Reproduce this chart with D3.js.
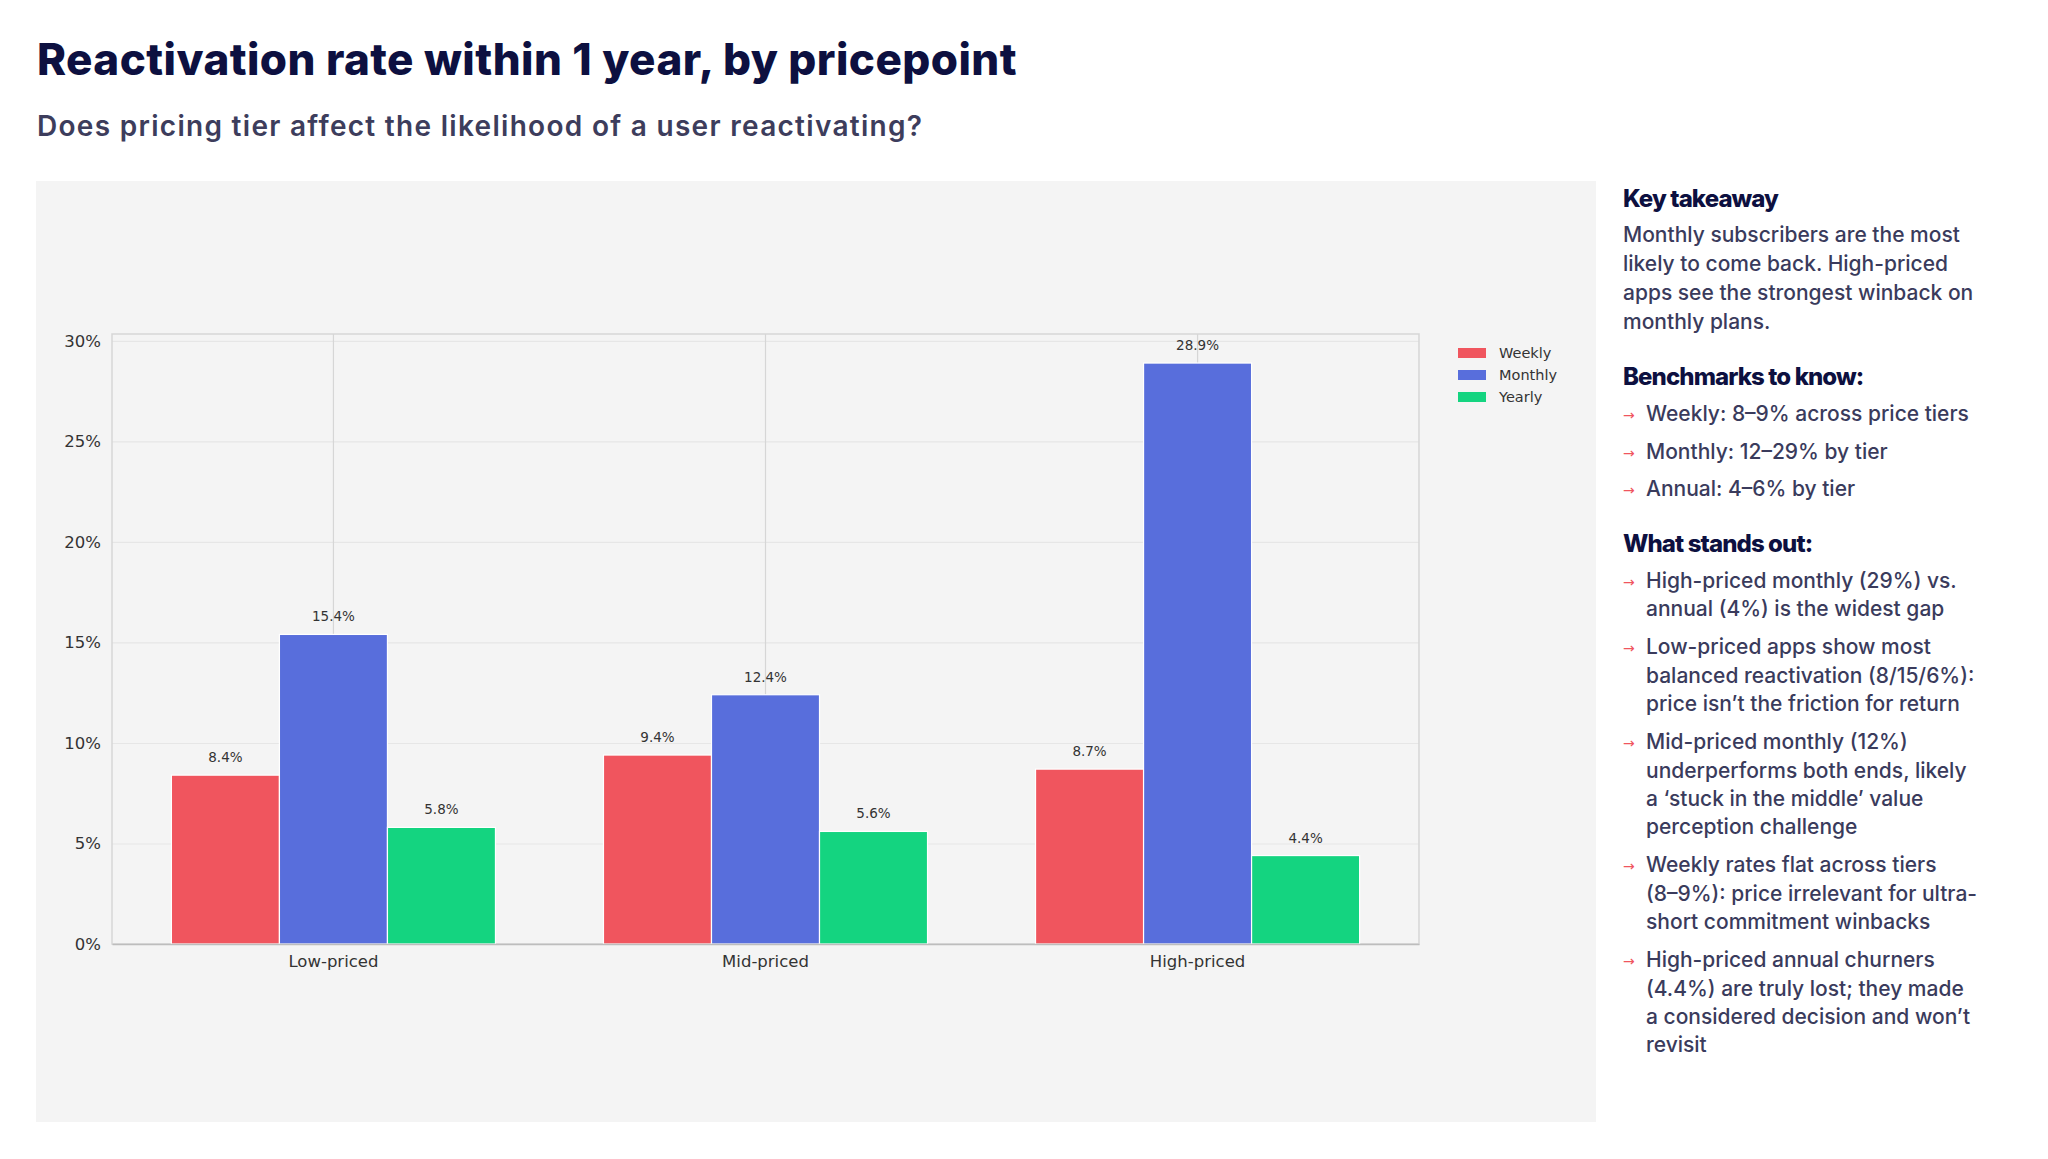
<!DOCTYPE html>
<html>
<head>
<meta charset="utf-8">
<script src="https://cdn.jsdelivr.net/npm/d3@7"></script>
<style>
  body { margin: 0; background: #fff; }
  svg { display: block; }
  .tick text { font-family: "DejaVu Sans", sans-serif; fill: #333; }
</style>
</head>
<body>
<svg class="canvas" width="2048" height="1159"></svg>
<script>
// data
var categories = ['Low-priced', 'Mid-priced', 'High-priced'];
var seriesNames = ['Weekly', 'Monthly', 'Yearly'];
var weekly = [8.4, 9.4, 8.7];
var monthly = [15.4, 12.4, 28.9];
var yearly = [5.8, 5.6, 4.4];
var yTicks = [0, 5, 10, 15, 20, 25, 30];
var colors = ['#F0555E', '#586EDC', '#14D480'];

var takeaway = [
	'Monthly subscribers are the most',
	'likely to come back. High-priced',
	'apps see the strongest winback on',
	'monthly plans.'
];
var benchmarks = [
	'Weekly: 8\u20139% across price tiers',
	'Monthly: 12\u201329% by tier',
	'Annual: 4\u20136% by tier'
];
var standouts = [
	['High-priced monthly (29%) vs.', 'annual (4%) is the widest gap'],
	['Low-priced apps show most', 'balanced reactivation (8/15/6%):', 'price isn\u2019t the friction for return'],
	['Mid-priced monthly (12%)', 'underperforms both ends, likely', 'a \u2018stuck in the middle\u2019 value', 'perception challenge'],
	['Weekly rates flat across tiers', '(8\u20139%): price irrelevant for ultra-', 'short commitment winbacks'],
	['High-priced annual churners', '(4.4%) are truly lost; they made', 'a considered decision and won\u2019t', 'revisit']
];

var series = [weekly, monthly, yearly];

var svg = d3.select('.canvas');
var navy = '#0D1040';
var slate = '#3A3B5C';

// TITLE
svg.append('text')
	.attr('x', 37).attr('y', 75)
	.attr('font-family', 'Inter, sans-serif')
	.attr('font-weight', 800)
	.attr('font-size', 44)
	.attr('letter-spacing', -1.5)
	.attr('textLength', 978)
	.attr('lengthAdjust', 'spacing')
	.attr('fill', navy)
	.text('Reactivation rate within 1 year, by pricepoint');

svg.append('text')
	.attr('x', 37).attr('y', 136)
	.attr('font-family', 'Inter, sans-serif')
	.attr('font-weight', 600)
	.attr('font-size', 28)
	.attr('textLength', 885)
	.attr('lengthAdjust', 'spacing')
	.attr('fill', '#3D3D5C')
	.text('Does pricing tier affect the likelihood of a user reactivating?');

// CHART BACKGROUND
svg.append('rect')
	.attr('x', 36).attr('y', 181)
	.attr('width', 1560).attr('height', 941)
	.attr('fill', '#F4F4F4');

var plot = { left: 112, right: 1419, top: 334, bottom: 944 };

var x = d3.scaleBand()
	.domain(categories)
	.range([plot.left, plot.right])
	.paddingInner(0)
	.paddingOuter(0.0125);

var groupWidth = x.bandwidth() * 0.75;
var xs = d3.scaleBand()
	.domain(seriesNames)
	.range([0, groupWidth]);

var y = d3.scaleLinear()
	.domain([0, d3.max(monthly.concat(weekly, yearly)) * 1.05])
	.range([plot.bottom, plot.top]);

// GRID
svg.append('g')
	.attr('class', 'grid-y')
	.attr('transform', 'translate(' + plot.left + ',0)')
	.call(d3.axisLeft(y).tickValues(yTicks).tickSize(-(plot.right - plot.left)).tickFormat(''))
	.call(function(g) {
		g.select('.domain').remove();
		g.selectAll('line').attr('stroke', '#E6E6E6').attr('stroke-width', 1.2);
	});

svg.append('g')
	.attr('class', 'grid-x')
	.attr('transform', 'translate(0,' + plot.bottom + ')')
	.call(d3.axisBottom(x).tickSize(-(plot.bottom - plot.top)).tickFormat(''))
	.call(function(g) {
		g.select('.domain').remove();
		g.selectAll('line').attr('stroke', '#D6D6D6').attr('stroke-width', 1.2);
	});

// FRAME
svg.append('rect')
	.attr('x', plot.left).attr('y', plot.top)
	.attr('width', plot.right - plot.left)
	.attr('height', plot.bottom - plot.top)
	.attr('fill', 'none')
	.attr('stroke', '#D6D6D6')
	.attr('stroke-width', 1.5);

// BARS
var groups = svg.append('g').selectAll('g')
	.data(categories)
	.enter().append('g')
	.attr('transform', function(d) {
		return 'translate(' + (x(d) + (x.bandwidth() - groupWidth) / 2) + ',0)';
	});

groups.selectAll('rect')
	.data(function(d, i) {
		return seriesNames.map(function(s, j) { return { s: s, v: series[j][i], c: colors[j] }; });
	})
	.enter().append('rect')
	.attr('x', function(d) { return xs(d.s); })
	.attr('y', function(d) { return y(d.v); })
	.attr('width', xs.bandwidth())
	.attr('height', function(d) { return y(0) - y(d.v); })
	.attr('fill', function(d) { return d.c; })
	.attr('stroke', '#fff')
	.attr('stroke-width', 1.2);

groups.selectAll('text')
	.data(function(d, i) {
		return seriesNames.map(function(s, j) { return { s: s, v: series[j][i] }; });
	})
	.enter().append('text')
	.attr('x', function(d) { return xs(d.s) + xs.bandwidth() / 2; })
	.attr('y', function(d) { return y(d.v) - 13; })
	.attr('text-anchor', 'middle')
	.attr('font-family', 'DejaVu Sans, sans-serif')
	.attr('font-size', 13.5)
	.attr('fill', '#333')
	.text(function(d) { return d.v.toFixed(1) + '%'; });

// AXES
svg.append('g')
	.attr('transform', 'translate(' + plot.left + ',0)')
	.call(d3.axisLeft(y).tickValues(yTicks).tickSize(0).tickPadding(11).tickFormat(function(d) { return d + '%'; }))
	.call(function(g) {
		g.select('.domain').remove();
		g.selectAll('text').attr('font-size', 16.5);
	});

svg.append('g')
	.attr('transform', 'translate(0,' + plot.bottom + ')')
	.call(d3.axisBottom(x).tickSize(0).tickPadding(11))
	.call(function(g) {
		g.select('.domain').attr('stroke', '#BDBDBD').attr('stroke-width', 1.5);
		g.selectAll('text').attr('font-size', 16.5);
	});

// LEGEND
var legend = svg.append('g').selectAll('g')
	.data(seriesNames)
	.enter().append('g')
	.attr('transform', function(d, i) { return 'translate(1458,' + (353 + i * 22) + ')'; });

legend.append('rect')
	.attr('x', 0).attr('y', -5)
	.attr('width', 28).attr('height', 10)
	.attr('fill', function(d, i) { return colors[i]; });

legend.append('text')
	.attr('x', 41).attr('y', 5)
	.attr('font-family', 'DejaVu Sans, sans-serif')
	.attr('font-size', 14.5)
	.attr('fill', '#333')
	.text(function(d) { return d; });

// SIDE PANEL
var panelX = 1623;

function heading(txt, yy) {
	svg.append('text')
		.attr('x', panelX).attr('y', yy)
		.attr('font-family', 'Inter, sans-serif')
		.attr('font-weight', 800)
		.attr('font-size', 24)
		.attr('letter-spacing', -0.9)
		.attr('fill', navy)
		.text(txt);
}

function line(txt, xx, yy) {
	svg.append('text')
		.attr('x', xx).attr('y', yy)
		.attr('font-family', 'Inter, sans-serif')
		.attr('font-weight', 500)
		.attr('font-size', 21)
		.attr('fill', slate)
		.text(txt);
}

function arrow(yy) {
	svg.append('text')
		.attr('x', panelX).attr('y', yy - 1)
		.attr('font-family', 'DejaVu Sans, sans-serif')
		.attr('font-size', 14)
		.attr('fill', '#F0555E')
		.text('\u2192');
}

heading('Key takeaway', 207);
takeaway.forEach(function(t, i) { line(t, panelX, 242 + i * 29); });

heading('Benchmarks to know:', 385);
benchmarks.forEach(function(t, i) {
	arrow(421 + i * 37.5);
	line(t, 1646, 421 + i * 37.5);
});

heading('What stands out:', 552);
var yy = 588;
standouts.forEach(function(lines) {
	arrow(yy);
	lines.forEach(function(t, i) { line(t, 1646, yy + i * 28.4); });
	yy += lines.length * 28.4 + 9.6;
});
</script>
</body>
</html>
